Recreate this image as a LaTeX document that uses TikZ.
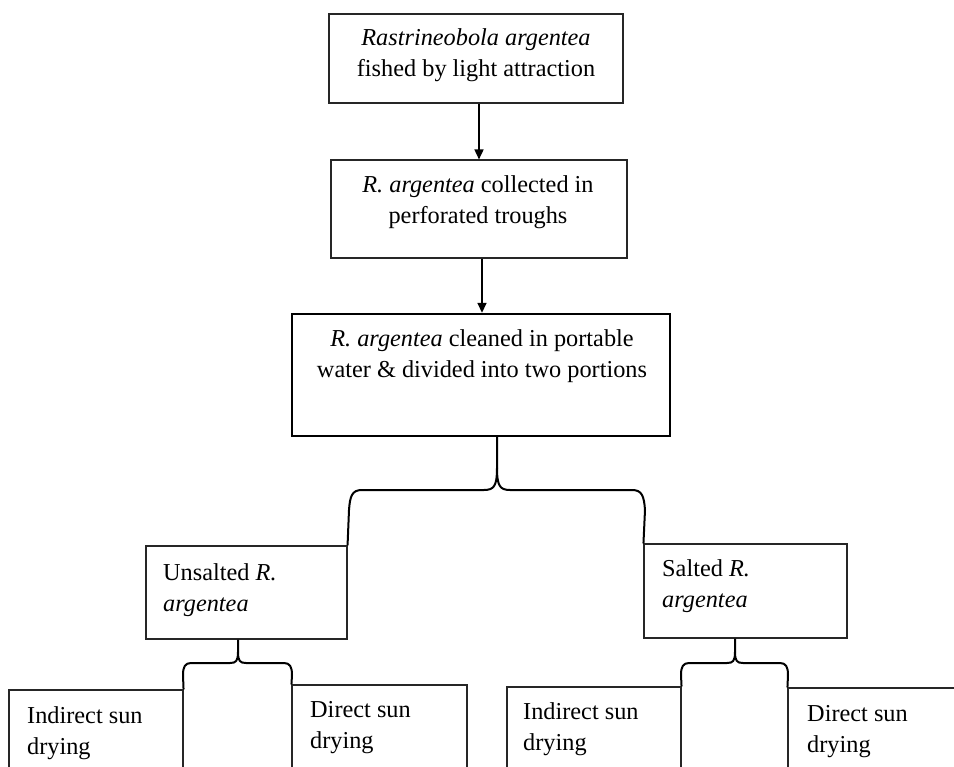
\documentclass[tikz,border=0pt]{standalone}
\usepackage{fontspec}
\setmainfont{Liberation Serif}
\usetikzlibrary{arrows.meta,calc}
\newcommand\ctext[2]{\vtop{\halign{\hfil##\hfil\cr#1\cr#2\cr}}}
\newcommand\ltext[2]{\vtop{\halign{##\hfil\cr#1\cr#2\cr}}}
\tikzset{
  box/.style={draw=black!85, line width=1.1pt, inner sep=0pt, fill=none},
  thickbox/.style={draw=black, line width=2.4pt, inner sep=0pt},
  txt/.style={inner sep=0pt, font=\fontsize{24.3}{31}\selectfont},
  conn/.style={line width=1.6pt, -{Triangle[length=10pt,width=9pt]}},
  bracel/.style={line width=2pt, line join=round},
}
\begin{document}
\begin{tikzpicture}[x=1pt,y=-1pt]
\clip (0,0) rectangle (954,767);
\fill[white] (0,0) rectangle (954,767);
% boxes
\node[box, minimum width=294, minimum height=89] (b1) at (476,58.5) {};
\node[box, minimum width=296, minimum height=98] (b2) at (479,209) {};
\node[thickbox, minimum width=378, minimum height=122] (b3) at (481,375) {};
\node[box, minimum width=201, minimum height=93] (un) at (246.5,592.5) {};
\node[box, minimum width=203, minimum height=94] (sa) at (745.5,591) {};
\node[box, minimum width=174, minimum height=110] (i1) at (96,745) {};
\node[box, minimum width=175, minimum height=115] (d1) at (379.5,742.5) {};
\node[box, minimum width=174, minimum height=113] (i2) at (594,743.5) {};
\node[box, minimum width=192, minimum height=112] (d2) at (884,744) {};
% texts
\node[txt, anchor=base] (t1) at (476,46) {\ctext{\textit{Rastrineobola argentea}}{fished by light attraction}};
\node[txt, anchor=base] (t2) at (478,193) {\ctext{\textit{R. argentea} collected in}{perforated troughs}};
\node[txt, anchor=base] (t3) at (482,347) {\ctext{\textit{R. argentea} cleaned in portable}{water \& divided into two portions}};
\node[txt, anchor=base west] (tun) at (163,580) {\ltext{Unsalted \textit{R.}}{\textit{argentea}}};
\node[txt, anchor=base west] (tsa) at (662,576) {\ltext{Salted \textit{R.}}{\textit{argentea}}};
\node[txt, anchor=base west] (ti1) at (27,723) {\ltext{Indirect sun}{drying}};
\node[txt, anchor=base west] (td1) at (310,717) {\ltext{Direct sun}{drying}};
\node[txt, anchor=base west] (ti2) at (523,719) {\ltext{Indirect sun}{drying}};
\node[txt, anchor=base west] (td2) at (807,721) {\ltext{Direct sun}{drying}};
% arrows
\draw[conn] ([xshift=3pt]b1.south) -- ([xshift=3pt]b1.south |- b2.north);
\draw[conn] ([xshift=3pt]b2.south) -- ([xshift=3pt]b2.south |- b3.north);
% top brace
\coordinate (s3) at ([xshift=16pt]b3.south);
\draw[bracel] (s3) -- (497,468) .. controls (497,486) and (494,490) .. (484,490) -- (362,490)
  .. controls (352,490) and (350,496) .. (349,510) -- (un.north east);
\draw[bracel] (497,468) .. controls (497,486) and (500,490) .. (510,490) -- (632,490)
  .. controls (642,490) and (644,496) .. (645,510) -- (sa.north west);
% lower left brace
\coordinate (su) at ([xshift=-8.5pt]un.south);
\draw[bracel] (su) -- (238,652) .. controls (238,661) and (236,663) .. (230,663) -- (191,663)
  .. controls (185,663) and (183,667) .. (183,675) -- (i1.north east);
\draw[bracel] (238,652) .. controls (238,661) and (240,663) .. (246,663) -- (284,663)
  .. controls (290,663) and (292,667) .. (292,675) -- (d1.north west);
% lower right brace
\coordinate (ss) at ([xshift=-10.5pt]sa.south);
\draw[bracel] (ss) -- (735,652) .. controls (735,661) and (733,663) .. (727,663) -- (689,663)
  .. controls (683,663) and (681,667) .. (681,675) -- (i2.north east);
\draw[bracel] (735,652) .. controls (735,661) and (737,663) .. (743,663) -- (780,663)
  .. controls (786,663) and (788,667) .. (788,675) -- (d2.north west);
\end{tikzpicture}
\end{document}
